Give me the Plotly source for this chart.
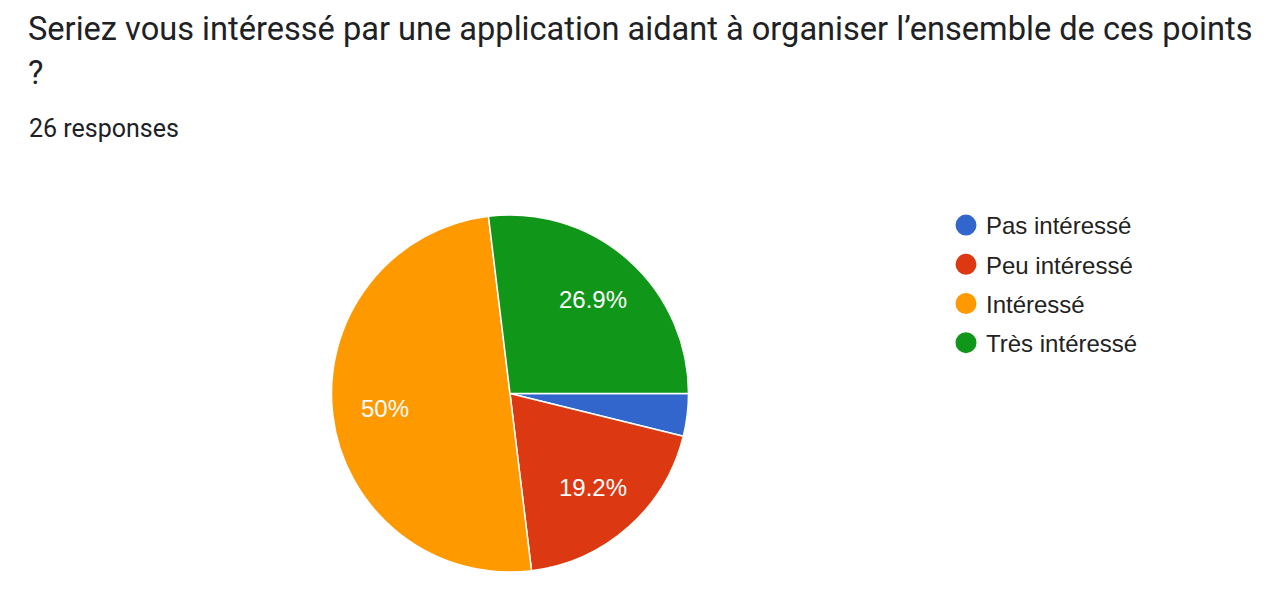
import math
import plotly.graph_objects as go

title_line1 = "Seriez vous intéressé par une application aidant à organiser l’ensemble de ces points"
title_line2 = "?"
subtitle_text = "26 responses"
categories = ["Pas intéressé", "Peu intéressé", "Intéressé", "Très intéressé"]
counts = [1, 5, 13, 7]
colors = ["#3366CC", "#DC3912", "#FF9900", "#109618"]

W, H = 1282, 612
OFF = 8  # page body margin compensation
cx, cy, r = 510 - OFF, 393.5 - OFF, 178.5


def px(x):
    return x / W


def py(y):
    return 1 - y / H


total = sum(counts)

fig = go.Figure()
fig.add_trace(go.Pie(
    labels=categories, values=counts, textinfo="none",
    sort=False, direction="clockwise", rotation=90,
    marker=dict(colors=colors, line=dict(color="white", width=1.5)),
    showlegend=False, hoverinfo="label+percent",
    domain=dict(x=[px(cx - r), px(cx + r)], y=[py(cy + r), py(cy - r)]),
))
for i, (name, col) in enumerate(zip(categories, colors)):
    fig.add_trace(go.Scatter(x=[None], y=[None], mode="markers", name=name,
                             legendgroup=f"g{i}",
                             marker=dict(symbol="circle", size=16, color=col,
                                         line=dict(color=col, width=5))))

annotations = [
    dict(text=title_line1, x=px(18), y=py(29 - OFF), xref="paper", yref="paper",
         xanchor="left", yanchor="middle", align="left", showarrow=False,
         font=dict(family="Roboto", size=32.6, color="#202124")),
    dict(text=title_line2, x=px(18), y=py(73 - OFF), xref="paper", yref="paper",
         xanchor="left", yanchor="middle", align="left", showarrow=False,
         font=dict(family="Roboto", size=32.6, color="#202124")),
    dict(text=subtitle_text, x=px(19), y=py(128.5 - OFF), xref="paper", yref="paper",
         xanchor="left", yanchor="middle", align="left", showarrow=False,
         font=dict(family="Roboto", size=25, color="#202124")),
]

# percentage labels inside slices (small slices unlabeled)
cum = 0
for c in counts:
    frac = c / total
    mid = (cum + c / 2) / total * 2 * math.pi
    cum += c
    if frac < 0.05:
        continue
    s = f"{frac * 100:.1f}".rstrip("0").rstrip(".") + "%"
    rho = 0.705 * r
    lx = cx + rho * math.cos(mid)
    ly = cy + rho * math.sin(mid)
    annotations.append(dict(text=s, x=px(lx), y=py(ly), xref="paper", yref="paper",
                            xanchor="center", yanchor="middle", showarrow=False,
                            font=dict(family="Arial, Liberation Sans", size=24, color="white")))

fig.update_layout(
    width=W, height=H, margin=dict(l=0, r=0, t=0, b=0),
    paper_bgcolor="white", plot_bgcolor="white",
    xaxis=dict(visible=False), yaxis=dict(visible=False),
    legend=dict(x=px(938), y=py(195), xanchor="left", yanchor="top",
                font=dict(family="Arial, Liberation Sans", size=24, color="#222222"),
                tracegroupgap=5, bgcolor="rgba(0,0,0,0)"),
    annotations=annotations,
)
fig.write_html("out.html")
